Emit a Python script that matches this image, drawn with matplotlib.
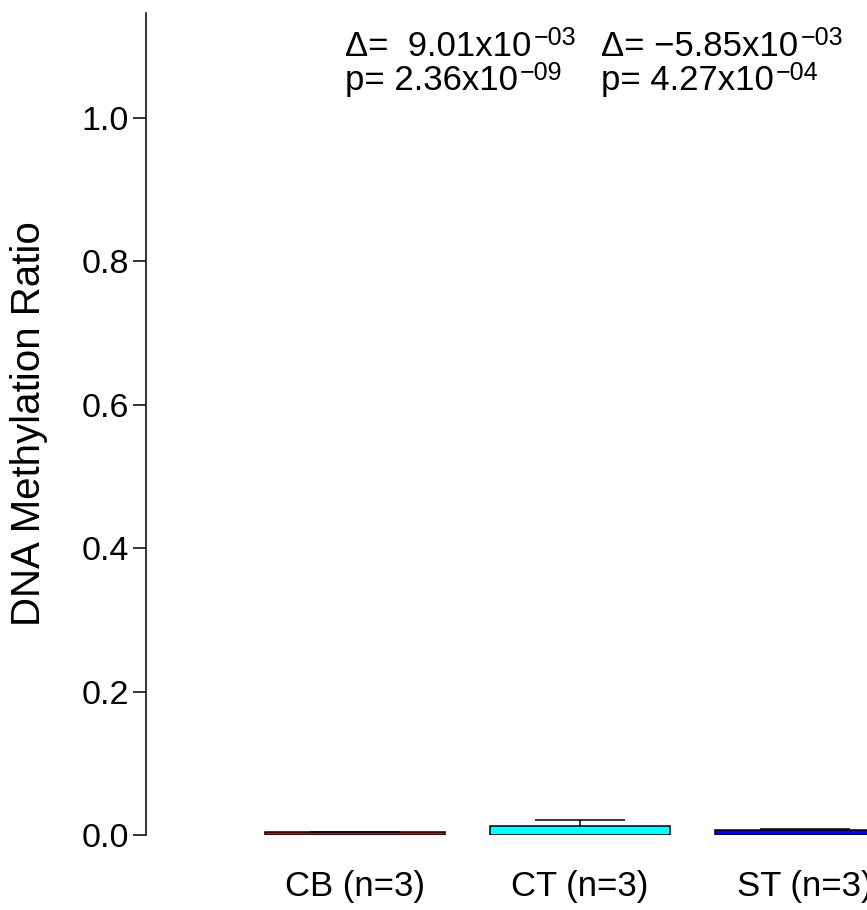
import matplotlib
matplotlib.use("Agg")
import matplotlib.pyplot as plt
import numpy as np

plt.rcParams['font.family'] = ['Liberation Sans', 'DejaVu Sans']

# data
groups = ["CB (n=3)", "CT (n=3)", "ST (n=3)"]
means = [0.0035, 0.0125, 0.0066]
errs = [0.0011, 0.0084, 0.0013]
colors = ["#FF0000", "#00FFFF", "#0000FF"]
delta_base = [" 9.01x10", "\u22125.85x10"]
delta_exp = ["\u221203", "\u221203"]
p_base = ["2.36x10", "4.27x10"]
p_exp = ["\u221209", "\u221204"]
yticks = [0.0, 0.2, 0.4, 0.6, 0.8, 1.0]

W, H = 867, 910
fig = plt.figure(figsize=(W/100, H/100), dpi=100)
ax = fig.add_axes([146/W, (H-835)/H, 721/W, 822/H])

# R style barplot: width 1, space 0.25
x = 0.25 + np.arange(len(groups))*1.25 + 0.5
ax.bar(x, means, width=1.0, color=colors, edgecolor='black', linewidth=1.1, zorder=2)

m = np.array(means)
e = np.array(errs)
ax.vlines(x, m, m + e, color='black', linewidth=1.1, zorder=3)
ax.hlines(m + e, x - 0.25, x + 0.25, color='black', linewidth=1.1, zorder=3)

ax.set_xlim(-0.411, 3.594)
ax.set_ylim(0, 1.146)

for s in ["top", "right", "bottom"]:
    ax.spines[s].set_visible(False)
ax.spines["left"].set_linewidth(1.1)

ax.set_yticks(yticks)
ax.set_yticklabels(["%.1f" % t for t in yticks], fontsize=24.5)
ax.tick_params(axis='y', length=9.4, width=1.1, pad=3)
ax.set_xticks(x)
ax.set_xticklabels(groups, fontsize=25)
ax.tick_params(axis='x', length=0, pad=25)

ax.set_ylabel("DNA Methylation Ratio", fontsize=29)
ax.yaxis.set_label_coords(-0.136, 0.5)

# comparison annotations (exponent drawn as its own small text)
def label_with_exp(xpos, ypos, base, exp):
    t = ax.text(xpos, ypos, base, fontsize=25, ha='left', va='baseline')
    ax.annotate(exp, xy=(1, 0), xycoords=t, xytext=(1.5, 9.0),
                textcoords='offset points', fontsize=18, ha='left', va='bottom')

ann_x = [0.694, 2.118]
for i in range(2):
    label_with_exp(ann_x[i], 1.0865, "\u0394= " + delta_base[i], delta_exp[i])
    label_with_exp(ann_x[i], 1.038, "p= " + p_base[i], p_exp[i])

fig.savefig("out.png", dpi=100)
